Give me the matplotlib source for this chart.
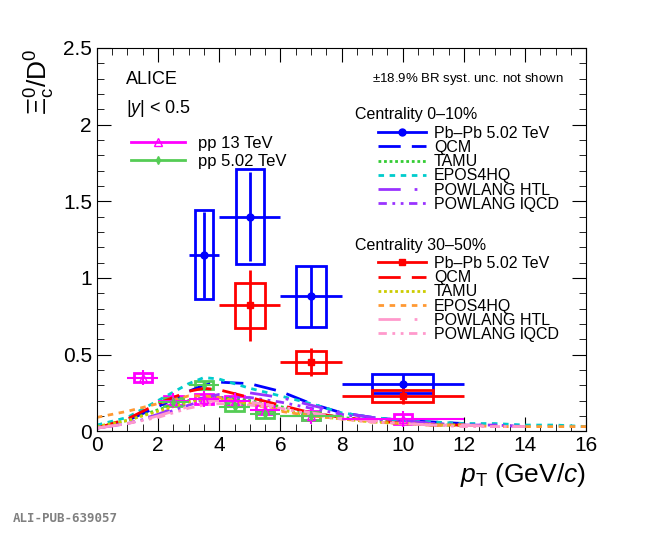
import matplotlib
matplotlib.use("Agg")
import matplotlib.pyplot as plt
from matplotlib.patches import Rectangle
from matplotlib.lines import Line2D
from matplotlib.ticker import MultipleLocator

plt.rcParams['font.family'] = ['Liberation Sans', 'DejaVu Sans']
plt.rcParams['mathtext.fontset'] = 'custom'
plt.rcParams['mathtext.rm'] = 'Liberation Sans'
plt.rcParams['mathtext.it'] = 'Liberation Sans:italic'

# Pb-Pb data
pb_x = [3.5, 5.0, 7.0, 10.0]
pb_xerr = [0.5, 1.0, 1.0, 2.0]
c010_y = [1.15, 1.40, 0.88, 0.31]
c010_stat = [0.28, 0.29, 0.20, 0.06]
c010_syst = [0.29, 0.31, 0.20, 0.06]
c3050_x = [5.0, 7.0, 10.0]
c3050_xerr = [1.0, 1.0, 2.0]
c3050_y = [0.82, 0.45, 0.23]
c3050_stat = [0.23, 0.09, 0.05]
c3050_syst = [0.15, 0.07, 0.04]

# pp data
pp13_x = [1.5, 2.5, 3.5, 4.5, 5.5, 7.0, 10.0]
pp13_y = [0.35, 0.20, 0.21, 0.20, 0.14, 0.10, 0.08]
pp502_x = [2.5, 3.5, 4.5, 5.5, 7.0]
pp502_y = [0.19, 0.30, 0.16, 0.11, 0.10]

# models
mx = [0, 1, 2, 3, 3.5, 4, 5, 6, 7, 8, 9, 10, 11, 12, 13, 14, 15, 16]
qcm010 = [0.02, 0.07, 0.16, 0.26, 0.30, 0.32, 0.31, 0.26, 0.18, 0.12, 0.09, 0.07, 0.06, 0.05, None, None, None, None]
tamu010 = [0.03, 0.07, 0.14, 0.20, 0.22, 0.22, 0.20, 0.16, 0.12, 0.09, 0.07, 0.05, 0.04, 0.04, None, None, None, None]
epos010 = [0.04, 0.09, 0.20, 0.31, 0.35, 0.34, 0.28, 0.23, 0.18, 0.12, 0.09, 0.07, 0.06, 0.05, 0.05, 0.04, 0.04, 0.03]
htl010 = [0.02, 0.05, 0.11, 0.19, 0.22, 0.24, 0.25, 0.22, 0.17, 0.12, 0.09, 0.07, 0.05, 0.04, 0.04, 0.03, None, None]
lqcd010 = [0.02, 0.05, 0.10, 0.17, 0.20, 0.22, 0.22, 0.19, 0.15, 0.11, 0.08, 0.06, 0.05, 0.04, 0.04, 0.03, None, None]
qcm3050 = [0.02, 0.08, 0.18, 0.26, 0.28, 0.27, 0.22, 0.17, 0.12, 0.09, 0.07, 0.05, 0.04, 0.04, None, None, None, None]
tamu3050 = [0.03, 0.07, 0.13, 0.19, 0.21, 0.21, 0.18, 0.14, 0.10, 0.08, 0.06, 0.05, 0.04, 0.04, None, None, None, None]
epos3050 = [0.09, 0.13, 0.18, 0.23, 0.23, 0.22, 0.18, 0.13, 0.10, 0.08, 0.06, 0.05, 0.04, 0.04, 0.03, 0.03, 0.03, 0.03]
htl3050 = [0.02, 0.05, 0.10, 0.16, 0.19, 0.20, 0.19, 0.16, 0.12, 0.09, 0.07, 0.05, 0.04, 0.04, 0.03, 0.03, None, None]
lqcd3050 = [0.02, 0.05, 0.09, 0.15, 0.17, 0.18, 0.17, 0.15, 0.11, 0.08, 0.06, 0.05, 0.04, 0.03, 0.03, 0.03, None, None]

fig = plt.figure(figsize=(6.5, 5.33), dpi=100)
ax = fig.add_axes([0.149, 0.191, 0.753, 0.719])
ax.set_xlim(0, 16)
ax.set_ylim(0, 2.5)

def clean(y):
    xs = [x for x, v in zip(mx, y) if v is not None]
    ys = [v for v in y if v is not None]
    return xs, ys

models = [
    (qcm010, dict(color='blue', ls=(0, (8, 4)), lw=2)),
    (tamu010, dict(color='#33cc33', ls=(0, (1, 1)), lw=2)),
    (epos010, dict(color='#00cccc', ls=(0, (2, 2)), lw=2)),
    (htl010, dict(color='#9933ff', ls=(0, (8, 5, 1, 5)), lw=2)),
    (lqcd010, dict(color='#9933ff', ls=(0, (3, 2, 1, 2, 1, 2)), lw=2)),
    (qcm3050, dict(color='red', ls=(0, (8, 4)), lw=2)),
    (tamu3050, dict(color='#cccc00', ls=(0, (1, 1)), lw=2)),
    (epos3050, dict(color='#ff9933', ls=(0, (2, 2)), lw=2)),
    (htl3050, dict(color='#ff99cc', ls=(0, (8, 5, 1, 5)), lw=2)),
    (lqcd3050, dict(color='#ff99cc', ls=(0, (3, 2, 1, 2, 1, 2)), lw=2)),
]
handles = []
for y, st in models:
    xs, ys = clean(y)
    l, = ax.plot(xs, ys, **st)
    handles.append(l)

def syst(xs, ys, es, col, hws):
    for x, y, e, hw in zip(xs, ys, es, hws):
        ax.add_patch(Rectangle((x - hw, y - e), 2 * hw, 2 * e, fill=False, ec=col, lw=2))

syst(pp13_x, pp13_y, [0.03] * len(pp13_x), 'magenta', [0.3] * len(pp13_x))
syst(pp502_x, pp502_y, [0.025] * len(pp502_x), '#55cc55', [0.3] * len(pp502_x))
ax.errorbar(pp13_x, pp13_y, yerr=[0.05] * len(pp13_x), xerr=[0.5, 0.5, 0.5, 0.5, 0.5, 1, 2],
            fmt='^', mfc='none', color='magenta', ms=6, lw=1.5)
ax.errorbar(pp502_x, pp502_y, yerr=[0.03] * len(pp502_x), xerr=[0.5, 0.5, 0.5, 0.5, 1],
            fmt='d', color='#55cc55', ms=4, lw=1.5)

syst(pb_x, c010_y, c010_syst, 'blue', [0.3, 0.45, 0.5, 1.0])
syst(c3050_x, c3050_y, c3050_syst, 'red', [0.5, 0.5, 1.0])
ax.errorbar(pb_x, c010_y, yerr=c010_stat, xerr=pb_xerr, fmt='o', color='blue', ms=5, lw=2)
ax.errorbar(c3050_x, c3050_y, yerr=c3050_stat, xerr=c3050_xerr, fmt='s', color='red', ms=5, lw=2)

hpp13 = Line2D([], [], color='magenta', marker='^', mfc='none', lw=2)
hpp502 = Line2D([], [], color='#55cc55', marker='d', ms=4, lw=2)
h010 = Line2D([], [], color='blue', marker='o', ms=5, lw=2)
h3050 = Line2D([], [], color='red', marker='s', ms=5, lw=2)

ax.xaxis.set_major_locator(MultipleLocator(2))
ax.xaxis.set_minor_locator(MultipleLocator(0.5))
ax.yaxis.set_major_locator(MultipleLocator(0.5))
ax.yaxis.set_minor_locator(MultipleLocator(0.1))
ax.tick_params(which='both', direction='in', top=True, right=True, labelsize=15)
ax.tick_params(which='major', length=10)
ax.tick_params(which='minor', length=5)
ax.set_yticks([0, 0.5, 1, 1.5, 2, 2.5])
ax.set_yticklabels(['0', '0.5', '1', '1.5', '2', '2.5'])
ax.set_xlabel(r'$p_{\rm T}$ (GeV/$c$)', fontsize=19, loc='right')
ax.set_ylabel(r'$\Xi_{\rm c}^{0}$/D$^{0}$', fontsize=19, loc='top')

ax.text(0.06, 0.94, 'ALICE', transform=ax.transAxes, fontsize=13, va='top')
ax.text(0.06, 0.87, r'$|y|$ < 0.5', transform=ax.transAxes, fontsize=13, va='top')
leg1 = ax.legend([hpp13, hpp502], ['pp 13 TeV', 'pp 5.02 TeV'], loc='upper left',
                 bbox_to_anchor=(0.04, 0.81), frameon=False, fontsize=12, handlelength=3.2, labelspacing=0.2)
ax.add_artist(leg1)
ax.text(0.955, 0.94, r'$\pm$18.9% BR syst. unc. not shown', transform=ax.transAxes, fontsize=9.5, ha='right', va='top')
kw = dict(loc='upper left', frameon=False, fontsize=11.5, handlelength=3.0,
          labelspacing=-0.05, borderpad=0.1, handletextpad=0.5)
labels = ['Pb–Pb 5.02 TeV', 'QCM', 'TAMU', 'EPOS4HQ', 'POWLANG HTL', 'POWLANG lQCD']
ax.text(0.528, 0.845, 'Centrality 0–10%', transform=ax.transAxes, fontsize=11.5, va='top')
leg2 = ax.legend([h010] + handles[:5], labels, bbox_to_anchor=(0.555, 0.822), **kw)
ax.add_artist(leg2)
ax.text(0.528, 0.505, 'Centrality 30–50%', transform=ax.transAxes, fontsize=11.5, va='top')
leg3 = ax.legend([h3050] + handles[5:], labels, bbox_to_anchor=(0.555, 0.482), **kw)

fig.text(0.02, 0.02, 'ALI-PUB-639057', fontsize=9, color='gray', family='DejaVu Sans Mono', weight='bold')
fig.savefig('out.png', dpi=100)
